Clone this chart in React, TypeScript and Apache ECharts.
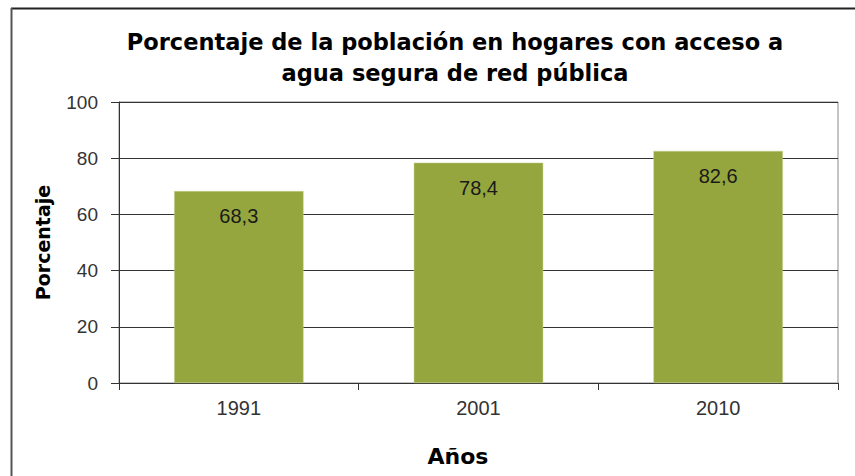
import React, { useEffect, useRef } from "react";
import * as echarts from "echarts";

const categories = ["1991", "2001", "2010"];
const values = [68.3, 78.4, 82.6];
const titleLines = ["Porcentaje de la población en hogares con acceso a", "agua segura de red pública"];
const yName = "Porcentaje";
const xName = "Años";

const BOLD_FONT = "'DejaVu Sans', Verdana, sans-serif";
const REG_FONT = "'Liberation Sans', Arial, sans-serif";

export default function App() {
  const ref = useRef<HTMLDivElement>(null);
  useEffect(() => {
    document.body.style.margin = "0";
    const chart = echarts.init(ref.current!, null, { renderer: "svg" });
    chart.setOption({
      animation: false,
      backgroundColor: "#ffffff",
      textStyle: { fontFamily: REG_FONT },
      graphic: [
        { type: "line", shape: { x1: 11, y1: 8.5, x2: 855, y2: 8.5 }, style: { stroke: "#222", lineWidth: 2 } },
        { type: "line", shape: { x1: 11.5, y1: 8, x2: 11.5, y2: 476 }, style: { stroke: "#555", lineWidth: 2 } },
        {
          type: "text",
          x: 455,
          y: 26,
          style: {
            text: titleLines.join("\n"),
            align: "center",
            verticalAlign: "top",
            font: "bold 22.5px " + BOLD_FONT,
            lineHeight: 31,
            fill: "#000",
          },
        },
        {
          type: "text",
          x: 458,
          y: 456,
          style: {
            text: xName,
            align: "center",
            verticalAlign: "middle",
            font: "bold 22px " + BOLD_FONT,
            fill: "#000",
          },
        },
      ],
      grid: { left: 119, top: 102, right: 17, bottom: 93, show: true, borderColor: "#8a8a8a", borderWidth: 1 },
      xAxis: {
        type: "category",
        data: categories,
        axisLine: { lineStyle: { color: "#333", width: 1 } },
        axisTick: { show: true, length: 7, lineStyle: { color: "#333" } },
        axisLabel: { fontSize: 20, color: "#333", margin: 15 },
      },
      yAxis: {
        type: "value",
        min: 0,
        max: 100,
        interval: 20,
        name: yName,
        nameLocation: "middle",
        nameGap: 67,
        nameTextStyle: { fontSize: 19, fontWeight: "bold", color: "#000", fontFamily: BOLD_FONT },
        axisLine: { show: true, lineStyle: { color: "#333", width: 1 } },
        axisTick: { show: true, length: 8, lineStyle: { color: "#333" } },
        axisLabel: { fontSize: 19, color: "#333", margin: 21 },
        splitLine: { lineStyle: { color: "#333", width: 1 } },
      },
      series: [
        {
          type: "bar",
          data: values,
          barWidth: "54%",
          itemStyle: { color: "#95a63e", borderColor: "#c9d08f", borderWidth: 0.5 },
          label: {
            show: true,
            position: "insideTop",
            distance: 15,
            fontSize: 20,
            color: "#1a1a1a",
            formatter: (p: any) => p.value.toFixed(1).replace(".", ","),
          },
        },
      ],
    });
    return () => chart.dispose();
  }, []);
  return <div ref={ref} style={{ width: 855, height: 476, position: "absolute", left: 0, top: 0 }} />;
}
